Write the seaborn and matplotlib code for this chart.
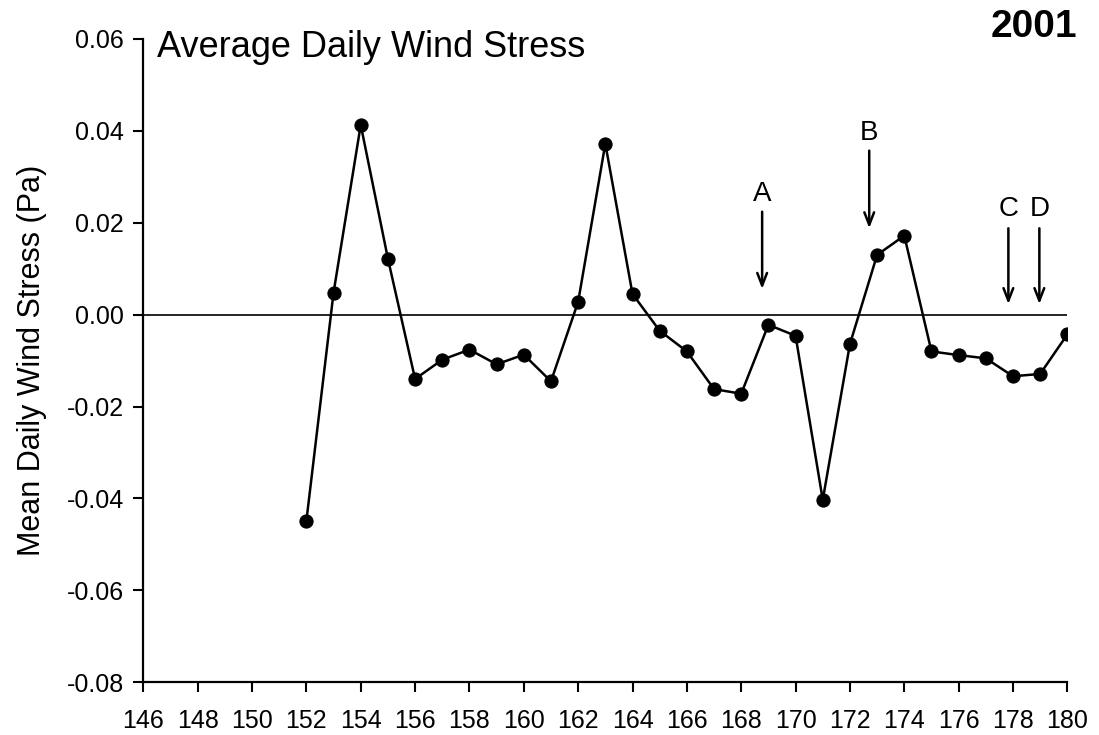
import numpy as np
import pandas as pd
import seaborn as sns
import matplotlib.pyplot as plt

# daily mean wind stress
day = [152, 153, 154, 155, 156, 157, 158, 159, 160, 161, 162, 163, 164, 165, 166,
       167, 168, 169, 170, 171, 172, 173, 174, 175, 176, 177, 178, 179, 180]
stress = [-0.0449, 0.0048, 0.0413, 0.0122, -0.0140, -0.0098, -0.0076, -0.0108, -0.0087,
          -0.0145, 0.0028, 0.0372, 0.0045, -0.0035, -0.0080, -0.0162, -0.0172, -0.0022,
          -0.0046, -0.0403, -0.0064, 0.0130, 0.0172, -0.0080, -0.0088, -0.0095, -0.0134,
          -0.0129, -0.0043]

# event markers (arrows)
event_labels = ['A', 'B', 'C', 'D']
event_day = [168.77, 172.71, 177.83, 178.97]
event_top = [0.0224, 0.0357, 0.0188, 0.0188]
event_tip = [0.0056, 0.0188, 0.0023, 0.0023]
event_text_y = [0.0263, 0.0395, 0.0230, 0.0230]

x_ticks = list(range(146, 181, 2))
y_ticks = [-0.08, -0.06, -0.04, -0.02, 0.00, 0.02, 0.04, 0.06]

df = pd.DataFrame({'day': day, 'stress': stress})

sns.set_style('ticks')
plt.rcParams['font.family'] = ['Liberation Sans', 'DejaVu Sans']
plt.rcParams['axes.unicode_minus'] = False
plt.rcParams['text.color'] = 'black'
plt.rcParams['axes.labelcolor'] = 'black'

fig = plt.figure(figsize=(10.99, 7.35), dpi=100)
ax = fig.add_axes([0.1304, 0.0717, 0.8408, 0.8753])

ax.axhline(0, color='black', lw=1.2, zorder=1)
sns.lineplot(data=df, x='day', y='stress', ax=ax, color='black', lw=1.8,
             marker='o', markersize=9.5, markeredgecolor='black', zorder=3)

for lab, x, top, tip, ty in zip(event_labels, event_day, event_top, event_tip, event_text_y):
    ax.annotate('', xy=(x, tip), xytext=(x, top),
                arrowprops=dict(arrowstyle='->,head_length=0.9,head_width=0.35',
                                color='black', lw=1.8, shrinkA=0, shrinkB=0))
    ax.text(x, ty, lab, fontsize=20, ha='center', va='center')

ax.set_xlim(146, 180)
ax.set_ylim(-0.08, 0.06)
ax.set_xticks(x_ticks)
ax.set_yticks(y_ticks)
ax.set_yticklabels(['%.2f' % v for v in y_ticks])
ax.tick_params(axis='both', direction='out', width=1.5, labelsize=18, colors='black')
ax.tick_params(axis='y', length=7, pad=7)
ax.tick_params(axis='x', length=7, pad=12)

sns.despine(ax=ax)
for s in ['left', 'bottom']:
    ax.spines[s].set_linewidth(1.6)
    ax.spines[s].set_color('black')

ax.set_xlabel('')
ax.set_ylabel('Mean Daily Wind Stress (Pa)', fontsize=22, labelpad=14)
ax.text(0.0148, 0.9725, 'Average Daily Wind Stress', transform=ax.transAxes,
        fontsize=26, ha='left', va='baseline')
fig.text(0.980, 0.950, '2001', fontsize=28, fontweight='bold', ha='right', va='baseline')

plt.savefig('out.png', dpi=100)
